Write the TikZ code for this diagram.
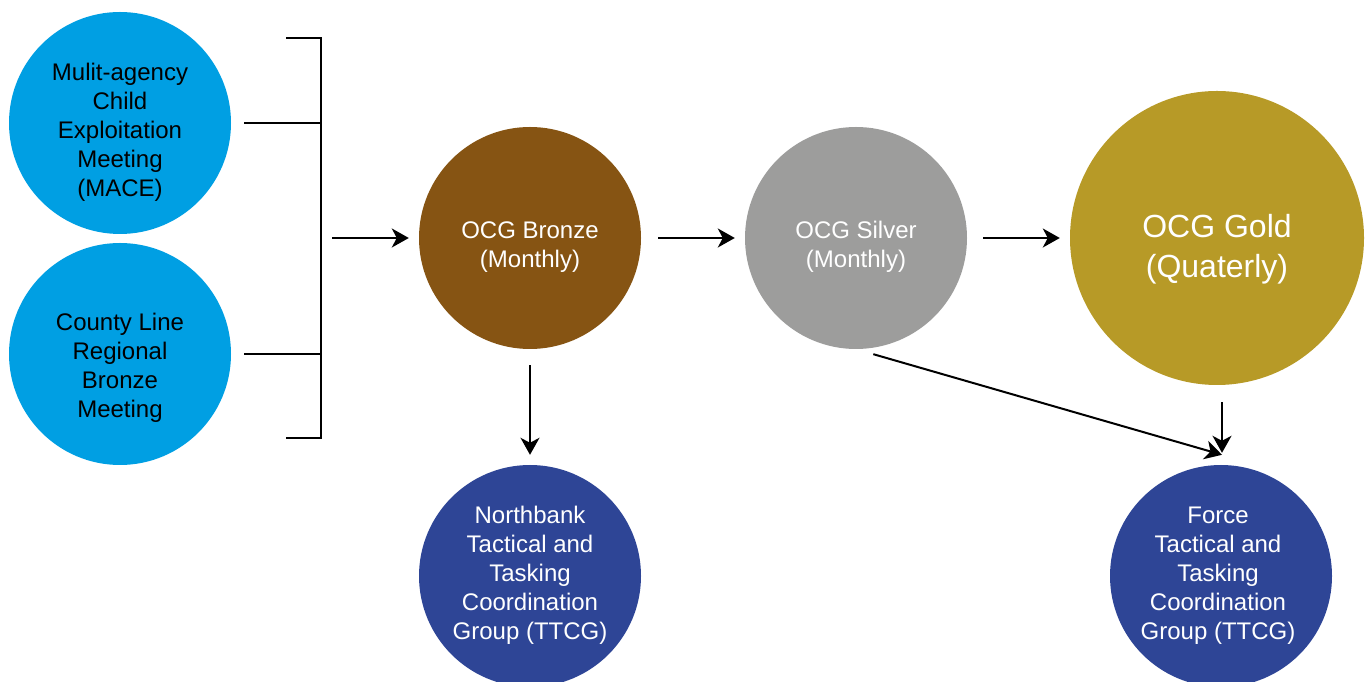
\documentclass[tikz,border=0pt]{standalone}
\usepackage{fontspec}
\setmainfont{Liberation Sans}
\usetikzlibrary{arrows.meta}
\definecolor{cblue}{RGB}{0,159,227}
\definecolor{cbronze}{RGB}{134,84,19}
\definecolor{csilver}{RGB}{157,157,156}
\definecolor{cgold}{RGB}{183,154,39}
\definecolor{cnavy}{RGB}{46,69,150}
\tikzset{
  blob/.style={circle, draw=none, inner sep=0pt, minimum size=222pt},
  bigblob/.style={circle, draw=none, inner sep=0pt, minimum size=294pt},
  txt/.style={align=center, inner sep=0pt, font=\fontsize{24}{29}\selectfont},
  bigtxt/.style={align=center, inner sep=0pt, font=\fontsize{32}{40}\selectfont},
  ln/.style={line width=2pt, draw=black},
  arr/.style={ln, -{Stealth[length=17pt,width=19pt,inset=5pt]}}
}
\begin{document}
\begin{tikzpicture}[x=1pt,y=1pt]
\useasboundingbox (0,0) rectangle (1368,682);
% circles
\node[blob, fill=cblue] (mace) at (120,559) {};
\node[blob, fill=cblue] (county) at (120,328) {};
\node[blob, fill=cbronze] (bronze) at (530,444) {};
\node[blob, fill=csilver] (silver) at (856,444) {};
\node[bigblob, fill=cgold] (gold) at (1217,444) {};
\node[blob, fill=cnavy] (north) at (530,106) {};
\node[blob, fill=cnavy] (force) at (1221,106) {};
% texts
\node[txt, text=black] (maceT) at (120,549.5) {Mulit-agency\\Child\\Exploitation\\Meeting\\(MACE)};
\node[txt, text=black] (countyT) at (120,314) {County Line\\Regional\\Bronze\\Meeting};
\node[txt, text=white] (bronzeT) at (530,435) {OCG Bronze\\(Monthly)};
\node[txt, text=white] (silverT) at (856,435) {OCG Silver\\(Monthly)};
\node[bigtxt, text=white] (goldT) at (1217,433) {OCG Gold\\(Quaterly)};
\node[txt, text=white] (northT) at (530,106.5) {Northbank\\Tactical and\\Tasking\\Coordination\\Group (TTCG)};
\node[txt, text=white] (forceT) at (1218,106.5) {Force\\Tactical and\\Tasking\\Coordination\\Group (TTCG)};
% bracket
\coordinate (bt) at (321,644);
\coordinate (bb) at (321,244);
\coordinate (btl) at (286,644);
\coordinate (bbl) at (286,244);
\coordinate (bm1) at (321,559);
\coordinate (bm2) at (321,328);
\coordinate (brk) at (321,444);
\draw[ln] (btl) -- (bt) -- (bb) -- (bbl);
\draw[ln, shorten <=13pt] (mace.east) -- (bm1);
\draw[ln, shorten <=13pt] (county.east) -- (bm2);
% arrows
\draw[arr, shorten <=11pt, shorten >=10pt] (brk) -- (bronze.west);
\draw[arr, shorten <=17pt, shorten >=10pt] (bronze.east) -- (silver.west);
\draw[arr, shorten <=16pt, shorten >=10pt] (silver.east) -- (gold.west);
\draw[arr, shorten <=16pt, shorten >=10pt] (bronze.south) -- (north.north);
\draw[arr, shorten <=18pt] (silver.south) -- ([xshift=1pt,yshift=10pt]force.north);
\draw[arr, shorten <=17pt] ([xshift=1pt]gold.south -| force.north) -- ([xshift=1pt,yshift=12pt]force.north);
\end{tikzpicture}
\end{document}
